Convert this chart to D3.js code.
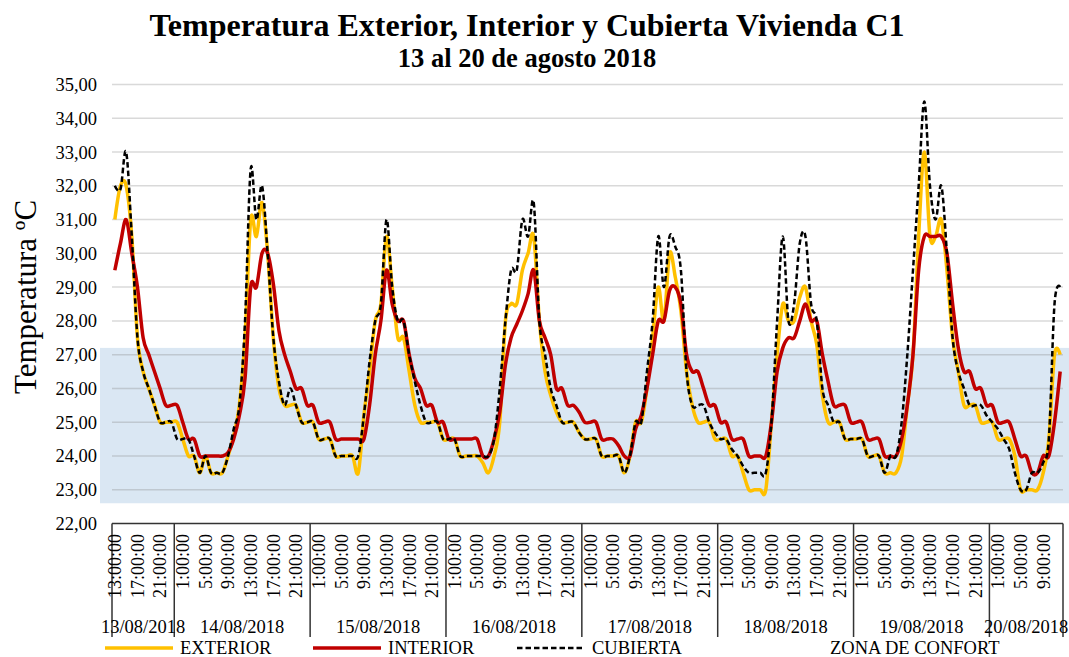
<!DOCTYPE html>
<html>
<head>
<meta charset="utf-8">
<script src="https://cdn.jsdelivr.net/npm/d3@7"></script>
<style>
  body { margin: 0; background: #fff; }
  svg text { font-family: "Liberation Serif", "Times New Roman", serif; fill: #000; }
</style>
</head>
<body>
<script>
// dias y horas registradas (cada hora es una categoria)
var dias = ["13/08/2018", "14/08/2018", "15/08/2018", "16/08/2018",
            "17/08/2018", "18/08/2018", "19/08/2018", "20/08/2018"];
var horaInicio = [13, 0, 0, 0, 0, 0, 0, 0];
var horaFin = [23, 23, 23, 23, 23, 23, 23, 12];

var yTicks = [22, 23, 24, 25, 26, 27, 28, 29, 30, 31, 32, 33, 34, 35];
var zonaConfort = [22.6, 27.2];

var exterior = [31.0, 32.0, 32.0, 30.5, 27.5, 26.5, 26.0, 25.5, 25.0, 25.0, 25.0,
  25.0, 24.5, 24.0, 24.0, 23.5, 24.0, 23.5, 23.5, 23.5, 24.0, 24.6, 25.5, 27.5,
  31.0, 30.5, 31.5, 30.0, 27.5, 26.0, 25.5, 25.5, 25.5, 25.0, 25.0, 25.0,
  24.5, 24.5, 24.5, 24.0, 24.0, 24.0, 24.0, 23.5, 25.2, 26.5, 28.0, 28.5,
  30.5, 29.0, 27.5, 27.5, 26.5, 25.5, 25.0, 25.0, 25.0, 25.0, 24.5, 24.5,
  24.5, 24.0, 24.0, 24.0, 24.0, 23.8, 23.5, 24.0, 25.0, 28.0, 28.5, 28.5,
  29.5, 30.0, 30.5, 28.0, 26.5, 25.8, 25.3, 25.0, 25.0, 25.0, 24.7, 24.5,
  24.5, 24.5, 24.0, 24.0, 24.0, 24.0, 23.5, 24.0, 25.0, 25.0, 26.0, 27.5,
  29.0, 28.0, 30.0, 29.3, 28.3, 26.5, 25.5, 25.0, 25.0, 25.0, 24.5, 24.5,
  24.5, 24.0, 24.0, 23.5, 23.0, 23.0, 23.0, 23.0, 25.0, 27.0, 28.5, 28.0,
  28.0, 28.7, 29.0, 28.0, 27.3, 25.8, 25.0, 25.0, 25.0, 24.5, 24.5, 24.5,
  24.5, 24.0, 24.0, 24.0, 23.5, 23.5, 23.5, 24.0, 25.5, 27.0, 30.5, 33.0,
  30.5, 30.5, 31.0, 29.5, 27.5, 26.5, 25.5, 25.5, 25.5, 25.0, 25.0, 25.0,
  24.5, 24.5, 24.5, 24.0, 23.0, 23.0, 23.0, 23.0, 23.5, 24.5, 27.0, 27.0];

var interior = [29.5, 30.3, 31.0, 30.0, 29.0, 27.5, 27.0, 26.5, 26.0, 25.5, 25.5,
  25.5, 25.0, 24.5, 24.5, 24.0, 24.0, 24.0, 24.0, 24.0, 24.1, 24.5, 25.2, 26.3,
  29.0, 29.0, 30.0, 30.0, 29.1, 27.7, 27.0, 26.5, 26.0, 26.0, 25.5, 25.5,
  25.0, 25.0, 25.0, 24.5, 24.5, 24.5, 24.5, 24.5, 24.5, 25.5, 27.0, 28.0,
  29.5, 28.5, 28.0, 28.0, 27.0, 26.3, 26.0, 25.5, 25.5, 25.0, 25.0, 24.5,
  24.5, 24.5, 24.5, 24.5, 24.5, 24.0, 24.0, 24.5, 25.3, 26.7, 27.5, 27.9,
  28.3, 28.8, 29.5, 28.0, 27.5, 27.0, 26.0, 26.0, 25.5, 25.5, 25.3, 25.0,
  25.0, 25.0, 24.5, 24.5, 24.5, 24.3, 24.0, 24.0, 24.8, 25.2, 26.0, 27.0,
  28.0, 28.0, 28.9, 29.0, 28.5, 27.0, 26.5, 26.5, 26.0, 25.5, 25.5, 25.0,
  25.0, 24.5, 24.5, 24.5, 24.0, 24.0, 24.0, 24.0, 25.0, 26.5, 27.2, 27.5,
  27.5, 28.0, 28.5, 28.0, 28.0, 27.0, 26.2, 25.5, 25.5, 25.5, 25.0, 25.0,
  25.0, 24.5, 24.5, 24.5, 24.0, 24.0, 24.0, 24.5, 25.5, 27.0, 29.5, 30.5,
  30.5, 30.5, 30.5, 30.0, 28.5, 27.2, 26.5, 26.5, 26.0, 26.0, 25.5, 25.5,
  25.0, 25.0, 25.0, 24.5, 24.0, 24.0, 23.5, 23.5, 24.0, 24.0, 25.0, 26.5];

var cubierta = [32.0, 31.9, 33.0, 30.5, 27.5, 26.5, 26.0, 25.5, 25.0, 25.0, 25.0,
  24.5, 24.5, 24.5, 24.0, 23.5, 24.0, 23.5, 23.5, 23.5, 24.0, 24.8, 25.5, 28.0,
  32.5, 31.0, 32.0, 30.0, 27.5, 26.2, 25.5, 26.0, 25.5, 25.0, 25.0, 25.0,
  24.5, 24.5, 24.5, 24.0, 24.0, 24.0, 24.0, 24.0, 25.2, 26.8, 28.0, 28.5,
  31.0, 29.0, 28.0, 28.0, 27.0, 26.2, 25.5, 25.0, 25.0, 25.0, 24.5, 24.5,
  24.5, 24.0, 24.0, 24.0, 24.0, 24.0, 24.0, 24.5, 26.0, 28.0, 29.5, 29.5,
  31.0, 30.5, 31.5, 28.0, 27.0, 26.0, 25.5, 25.0, 25.0, 25.0, 24.7, 24.5,
  24.5, 24.5, 24.0, 24.0, 24.0, 24.0, 23.5, 24.0, 25.0, 25.0, 26.5, 28.0,
  30.5, 29.0, 30.5, 30.2, 29.5, 26.5, 25.5, 25.5, 25.5, 25.0, 24.7, 24.5,
  24.5, 24.2, 24.0, 23.7, 23.5, 23.5, 23.5, 23.5, 25.0, 28.0, 30.5, 28.0,
  28.5, 30.3, 30.5, 28.5, 28.0, 26.0, 25.5, 25.0, 25.0, 24.5, 24.5, 24.5,
  24.5, 24.0, 24.0, 24.0, 23.5, 24.0, 24.0, 25.0, 27.0, 29.5, 32.0, 34.5,
  32.0, 31.0, 32.0, 30.0, 27.5, 26.5, 26.0, 25.5, 25.5, 25.5, 25.2, 25.0,
  24.8, 24.5, 24.2, 23.5, 23.0, 23.0, 23.5, 23.5, 23.8, 24.5, 28.5, 29.0];

// categorias: una por hora
var categorias = [];
dias.forEach(function (d, k) {
    for (var h = horaInicio[k]; h <= horaFin[k]; h++) {
        categorias.push({dia: d, hora: h + ":00:00"});
    }
});

var W = 1069, H = 657;
var xIzq = 112, xDer = 1063, yArriba = 84.5, yAbajo = 523.5;

var svg = d3.select("body").append("svg")
    .attr("width", W)
    .attr("height", H);

var x = d3.scaleBand()
    .domain(d3.range(categorias.length))
    .range([xIzq, xDer]);
var y = d3.scaleLinear()
    .domain([22, 35])
    .range([yAbajo, yArriba]);

function cx(i) { return x(i) + x.bandwidth() / 2; }

// zona de confort
svg.append("rect")
    .attr("x", 100)
    .attr("y", y(zonaConfort[1]))
    .attr("width", W - 100)
    .attr("height", y(zonaConfort[0]) - y(zonaConfort[1]))
    .attr("fill", "#dae7f3");

// lineas de division
svg.append("g").selectAll("line")
    .data(yTicks.filter(function (t) { return t > 22; }))
    .enter().append("line")
    .attr("x1", xIzq).attr("x2", xDer)
    .attr("y1", function (d) { return y(d); })
    .attr("y2", function (d) { return y(d); })
    .attr("stroke", "#808080")
    .attr("stroke-opacity", 0.3)
    .attr("stroke-width", 1.5);

// etiquetas eje y
svg.append("g").selectAll("text")
    .data(yTicks)
    .enter().append("text")
    .attr("x", 97)
    .attr("y", function (d) { return y(d); })
    .attr("dy", "0.35em")
    .attr("text-anchor", "end")
    .style("font-size", "18.5px")
    .text(function (d) { return d3.format(".2f")(d).replace(".", ","); });

svg.append("text")
    .attr("transform", "translate(36,297) rotate(-90)")
    .attr("text-anchor", "middle")
    .style("font-size", "31px")
    .text("Temperatura ºC");

// eje x
svg.append("line")
    .attr("x1", xIzq).attr("x2", xDer)
    .attr("y1", yAbajo).attr("y2", yAbajo)
    .attr("stroke", "#333").attr("stroke-width", 1.5);

var limites = [0];
categorias.forEach(function (c, i) {
    if (i > 0 && c.dia !== categorias[i - 1].dia) limites.push(i);
});
var bordes = limites.map(function (i) { return x(i); }).concat([xDer]);

svg.append("g").selectAll("line")
    .data(bordes)
    .enter().append("line")
    .attr("x1", function (d) { return d; })
    .attr("x2", function (d) { return d; })
    .attr("y1", yAbajo).attr("y2", 637)
    .attr("stroke", "#333").attr("stroke-width", 1.5);

svg.append("g").selectAll("text")
    .data(categorias.map(function (c, i) { return {c: c, i: i}; })
        .filter(function (d) { return d.i % 4 === 0; }))
    .enter().append("text")
    .attr("transform", function (d) {
        return "translate(" + cx(d.i) + ",534) rotate(-90)";
    })
    .attr("dy", "0.35em")
    .attr("text-anchor", "end")
    .style("font-size", "18px")
    .text(function (d) { return d.c.hora; });

svg.append("g").selectAll("text")
    .data(dias)
    .enter().append("text")
    .attr("x", function (d, k) { return (bordes[k] + bordes[k + 1]) / 2; })
    .attr("y", 633)
    .attr("text-anchor", "middle")
    .style("font-size", "18.5px")
    .text(function (d) { return d; });

// series
var linea = function (vals) {
    return d3.line()
        .x(function (d, i) { return cx(i); })
        .y(function (d) { return y(d); })
        .curve(d3.curveCardinal.tension(0))(vals);
};

svg.append("path").attr("d", linea(exterior))
    .attr("fill", "none").attr("stroke", "#ffc000").attr("stroke-width", 3.5);
svg.append("path").attr("d", linea(interior))
    .attr("fill", "none").attr("stroke", "#c00000").attr("stroke-width", 3.5);
svg.append("path").attr("d", linea(cubierta))
    .attr("fill", "none").attr("stroke", "#000").attr("stroke-width", 2.5)
    .attr("stroke-dasharray", "5.5,3");

// titulo
svg.append("text")
    .attr("x", 527).attr("y", 36)
    .attr("text-anchor", "middle")
    .style("font-size", "32px").style("font-weight", "bold")
    .text("Temperatura Exterior, Interior y Cubierta Vivienda C1");
svg.append("text")
    .attr("x", 527).attr("y", 67)
    .attr("text-anchor", "middle")
    .style("font-size", "26.5px").style("font-weight", "bold")
    .text("13 al 20 de agosto 2018");

// leyenda
var leyenda = [
    {nombre: "EXTERIOR", x: 105, color: "#ffc000", ancho: 3.5, dash: null},
    {nombre: "INTERIOR", x: 313, color: "#c00000", ancho: 3.5, dash: null},
    {nombre: "CUBIERTA", x: 517, color: "#000", ancho: 2.5, dash: "5.5,3"},
    {nombre: "ZONA DE CONFORT", x: 760, color: "#fff", ancho: 0, dash: null}
];
var lg = svg.append("g").selectAll("g")
    .data(leyenda)
    .enter().append("g")
    .attr("transform", function (d) { return "translate(" + d.x + ",648)"; });
lg.append("line")
    .attr("x1", 0).attr("x2", 68)
    .attr("stroke", function (d) { return d.color; })
    .attr("stroke-width", function (d) { return d.ancho; })
    .attr("stroke-dasharray", function (d) { return d.dash; });
lg.append("text")
    .attr("x", function (d) { return d.nombre === "ZONA DE CONFORT" ? 70 : 75; })
    .attr("dy", "0.35em")
    .style("font-size", "18.5px")
    .text(function (d) { return d.nombre; });
</script>
</body>
</html>
